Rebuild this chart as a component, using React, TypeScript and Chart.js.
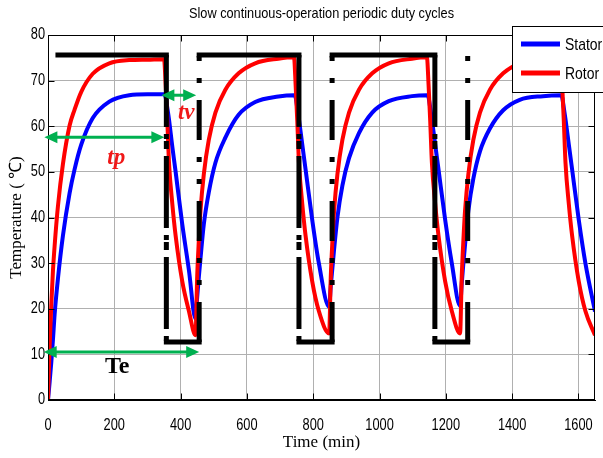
import React, { useEffect, useRef } from "react";
import { Chart, registerables } from "chart.js";

Chart.register(...registerables);

const chartTitle = "Slow continuous-operation periodic duty cycles";
const xAxisTitle = "Time (min)";
const yAxisTitle = "Temperature ( \u2103)";
const seriesNames = ["Stator", "Rotor"];
const seriesColors = ["#0000ff", "#ff0000"];

// time axis (min)
const timeMin = [
  0, 5, 10, 15, 20, 30, 45, 65, 80, 100, 135, 185, 245, 300, 350,
  355, 360, 365, 375, 385, 405, 425, 445,
  450, 455, 460, 470, 485, 505, 535, 575, 625, 695, 742,
  747, 752, 757, 767, 777, 797, 817, 848,
  853, 858, 863, 873, 888, 908, 938, 978, 1028, 1098, 1143,
  1148, 1153, 1158, 1168, 1178, 1198, 1218, 1243,
  1248, 1253, 1258, 1268, 1283, 1303, 1333, 1373, 1423, 1493, 1546,
  1551, 1556, 1561, 1571, 1581, 1601, 1621, 1650,
];

const statorTemp = [
  0, 4, 8.3, 13.3, 18.8, 26.6, 36, 45.3, 50.5, 55.9, 61.8, 65.4, 66.8, 67, 67,
  66.3, 64, 61.5, 55.5, 50, 38.5, 28.5, 17.8,
  22.5, 27, 31, 38.5, 45.5, 52, 57.5, 62.5, 65.3, 66.5, 66.8,
  66.3, 64, 61.5, 56, 50.5, 39.5, 30, 20.4,
  25, 29, 33, 40, 47, 53, 58.5, 63, 65.5, 66.6, 66.8,
  66.3, 64, 61.5, 56, 50.5, 39.5, 30, 20.6,
  25.5, 30, 34, 41.5, 48.5, 54.5, 59.5, 63.5, 65.8, 66.6, 66.8,
  66.3, 64, 61.5, 56, 50.5, 39.5, 30, 19.4,
];

const rotorTemp = [
  0, 12, 21, 28.4, 33.8, 42.5, 51.7, 60.1, 63.6, 67.5, 71.5, 73.8, 74.5, 74.6, 74.7,
  69, 61, 52, 43, 36, 26, 19.5, 14.2,
  27, 35, 41.5, 49.5, 57, 63, 68, 71.6, 73.8, 74.8, 75.1,
  69, 61, 52, 43, 36, 26, 19.5, 14.6,
  27, 35, 41.5, 49.5, 57, 63, 68, 71.6, 73.8, 74.8, 75.1,
  69, 61, 52, 43, 36, 26, 19.5, 14.6,
  27, 35, 41.5, 49.5, 57, 63, 68, 71.6, 73.8, 74.8, 75.1,
  69, 61, 52, 43, 36, 26, 19.5, 14.2,
];

// black duty-cycle profile
const loadTime = [30, 357, 357, 456, 456, 757, 757, 857, 857, 1167, 1167, 1266, 1266];
const loadTemp = [75.6, 75.6, 12.7, 12.7, 75.6, 75.6, 12.7, 12.7, 75.6, 75.6, 12.7, 12.7, 75.6];

// green double arrows
const arrowNames = ["tv", "tp", "Te"];
const arrowFrom = [342, -11, -13];
const arrowTo = [447, 351, 456];
const arrowLevel = [66.8, 57.6, 10.5];
const arrowLabelTime = [417, 206, 209];
const arrowLabelTemp = [62.9, 53, 7.2];
const arrowLabelColor = ["#f01818", "#f01818", "#000000"];
const arrowLabelItalic = [true, true, false];

const SANS = '"Liberation Sans", Arial, sans-serif';
const SERIF = '"Liberation Serif", "Times New Roman", serif';

function narrowText(ctx: any, text: string, x: number, y: number, align: string, sx: number) {
  ctx.save();
  ctx.translate(x, y);
  ctx.scale(sx, 1);
  ctx.textAlign = align;
  ctx.fillText(text, 0, 0);
  ctx.restore();
}

const decorPlugin = {
  id: "decor",
  afterDraw(chart: any) {
    const { ctx, chartArea: a, scales } = chart;
    const xs = scales.x;
    const ys = scales.y;
    ctx.save();

    // frame
    ctx.strokeStyle = "#000";
    ctx.lineWidth = 1;
    const L = Math.round(a.left) + 0.5;
    const T = Math.round(a.top) + 0.5;
    const R = Math.round(a.right) - 0.5;
    const B = Math.round(a.bottom) - 0.5;
    ctx.strokeRect(L, T, R - L, B - T);

    // inner ticks
    ctx.beginPath();
    xs.ticks.forEach((t: any) => {
      const px = Math.round(xs.getPixelForValue(t.value)) + 0.5;
      ctx.moveTo(px, B);
      ctx.lineTo(px, B - 6);
      ctx.moveTo(px, T);
      ctx.lineTo(px, T + 6);
    });
    ys.ticks.forEach((t: any) => {
      const py = Math.round(ys.getPixelForValue(t.value)) + 0.5;
      ctx.moveTo(L, py);
      ctx.lineTo(L + 6, py);
      ctx.moveTo(R, py);
      ctx.lineTo(R - 6, py);
    });
    ctx.stroke();

    // tick labels (condensed, as in the source figure)
    ctx.fillStyle = "#000";
    ctx.textBaseline = "middle";
    ctx.font = `16px ${SANS}`;
    xs.ticks.forEach((t: any) => {
      narrowText(ctx, String(t.value), xs.getPixelForValue(t.value), 426, "center", 0.8);
    });
    ys.ticks.forEach((t: any) => {
      narrowText(ctx, String(t.value), 45, ys.getPixelForValue(t.value), "right", 0.8);
    });

    // titles
    ctx.font = `15px ${SANS}`;
    narrowText(ctx, chartTitle, (a.left + a.right) / 2, 14, "center", 0.85);
    ctx.textAlign = "center";
    ctx.font = `17px ${SERIF}`;
    ctx.fillText(xAxisTitle, (a.left + a.right) / 2, 443);
    ctx.save();
    ctx.translate(17, (a.top + a.bottom) / 2);
    ctx.rotate(-Math.PI / 2);
    ctx.fillText(yAxisTitle, 0, 0);
    ctx.restore();

    // arrows
    const green = "#00b050";
    arrowNames.forEach((name, i) => {
      const x1 = xs.getPixelForValue(arrowFrom[i]);
      const x2 = xs.getPixelForValue(arrowTo[i]);
      const y = ys.getPixelForValue(arrowLevel[i]);
      const head = 13;
      const hw = 6;
      ctx.strokeStyle = green;
      ctx.fillStyle = green;
      ctx.lineWidth = 3;
      ctx.beginPath();
      ctx.moveTo(x1 + head - 1, y);
      ctx.lineTo(x2 - head + 1, y);
      ctx.stroke();
      ctx.beginPath();
      ctx.moveTo(x1, y);
      ctx.lineTo(x1 + head, y - hw);
      ctx.lineTo(x1 + head, y + hw);
      ctx.closePath();
      ctx.fill();
      ctx.beginPath();
      ctx.moveTo(x2, y);
      ctx.lineTo(x2 - head, y - hw);
      ctx.lineTo(x2 - head, y + hw);
      ctx.closePath();
      ctx.fill();

      ctx.fillStyle = arrowLabelColor[i];
      ctx.font = `${arrowLabelItalic[i] ? "italic " : ""}bold ${arrowLabelItalic[i] ? 23 : 24}px ${SERIF}`;
      ctx.textAlign = "center";
      ctx.textBaseline = "middle";
      ctx.fillText(name, xs.getPixelForValue(arrowLabelTime[i]), ys.getPixelForValue(arrowLabelTemp[i]));
    });

    // legend
    const lx = 512.5;
    const ly = 26.5;
    ctx.fillStyle = "#fff";
    ctx.fillRect(lx, ly, 100, 66);
    ctx.strokeStyle = "#000";
    ctx.lineWidth = 1;
    ctx.strokeRect(lx, ly, 100, 66);
    seriesNames.forEach((n, i) => {
      const yy = 44 + i * 29;
      ctx.strokeStyle = seriesColors[i];
      ctx.lineWidth = 5;
      ctx.beginPath();
      ctx.moveTo(521, yy);
      ctx.lineTo(560, yy);
      ctx.stroke();
      ctx.fillStyle = "#000";
      ctx.font = `17px ${SANS}`;
      ctx.textBaseline = "middle";
      narrowText(ctx, n, 565, yy + 1, "left", 0.82);
    });

    ctx.restore();
  },
};

export default function App() {
  const ref = useRef<HTMLCanvasElement | null>(null);

  useEffect(() => {
    if (!ref.current) return;
    const vertical = (c: any) => c.p0.parsed.x === c.p1.parsed.x;
    const chart = new Chart(ref.current, {
      type: "line",
      data: {
        datasets: [
          {
            label: seriesNames[0],
            data: timeMin.map((t, i) => ({ x: t, y: statorTemp[i] })),
            borderColor: seriesColors[0],
            borderWidth: 4,
            pointRadius: 0,
            cubicInterpolationMode: "monotone",
            order: 2,
          },
          {
            label: seriesNames[1],
            data: timeMin.map((t, i) => ({ x: t, y: rotorTemp[i] })),
            borderColor: seriesColors[1],
            borderWidth: 4,
            pointRadius: 0,
            cubicInterpolationMode: "monotone",
            order: 1,
          },
          {
            label: "Duty cycle",
            data: loadTime.map((t, i) => ({ x: t, y: loadTemp[i] })),
            borderColor: "#000",
            borderWidth: 5,
            pointRadius: 0,
            tension: 0,
            order: 0,
            segment: {
              borderDash: (c: any) => (vertical(c) ? [40, 17, 5, 17, 5, 17] : []),
              borderCapStyle: (c: any) => (vertical(c) ? "butt" : "square"),
            },
          } as any,
        ],
      },
      options: {
        animation: false,
        responsive: false,
        layout: { padding: { left: 0, right: 8, top: 35, bottom: 0 } },
        plugins: { legend: { display: false }, tooltip: { enabled: false }, title: { display: false } },
        scales: {
          x: {
            type: "linear",
            min: 0,
            max: 1650,
            afterFit: (s: any) => {
              s.height = 58;
            },
            ticks: { stepSize: 200, includeBounds: false, display: false },
            grid: { color: "#b0b0b0", drawTicks: false, lineWidth: 1 },
            border: { color: "#000" },
          },
          y: {
            min: 0,
            max: 80,
            afterFit: (s: any) => {
              s.width = 48;
            },
            ticks: { stepSize: 10, display: false },
            grid: { color: "#b0b0b0", drawTicks: false, lineWidth: 1 },
            border: { color: "#000" },
          },
        },
      },
      plugins: [decorPlugin],
    } as any);
    return () => chart.destroy();
  }, []);

  return (
    <div style={{ position: "absolute", left: 0, top: 0, width: 603, height: 458, background: "#fff" }}>
      <canvas ref={ref} width={603} height={458} style={{ display: "block" }} />
    </div>
  );
}
